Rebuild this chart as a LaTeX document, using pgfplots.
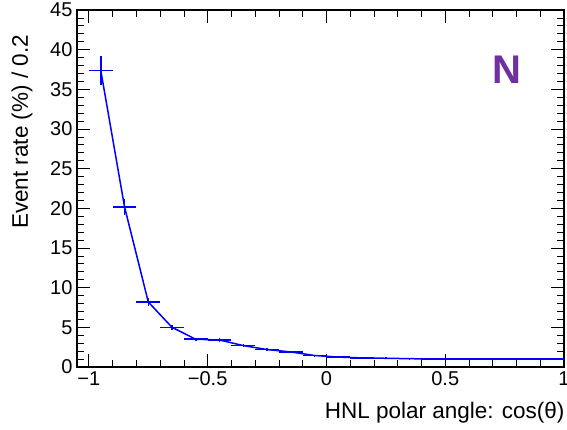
\documentclass[border=0pt]{standalone}
\usepackage{fontspec}
\setmainfont{Liberation Sans}
\usepackage{pgfplots}
\pgfplotsset{compat=1.18}
\definecolor{npurple}{HTML}{7030A0}

\begin{document}
\begin{tikzpicture}[x=1pt,y=1pt]
\path[use as bounding box] (-77,-62) rectangle (490,367);
\begin{axis}[
    at={(0,0)}, anchor=south west,
    width=487pt, height=357pt, scale only axis,
    xmin=-1.05, xmax=1, ymin=0, ymax=45,
    xtick={-1,-0.5,0,0.5,1},
    xticklabels={−1,−0.5,0,0.5,1},
    ytick={0,5,...,45},
    minor x tick num=4, minor y tick num=4,
    tick align=inside,
    major tick length=13pt, minor tick length=7pt,
    tick style={black, line width=0.8pt},
    axis line style={line width=1.5pt},
    /pgf/number format/assume math mode=true,
    tick label style={font=\fontsize{20}{23}\selectfont},
    xticklabel style={yshift=-1pt},
    yticklabel style={xshift=-1pt},
    xlabel={HNL polar angle: cos(θ)},
    ylabel={Event rate (\%) / 0.2},
    label style={font=\fontsize{22.5}{25}\selectfont},
    xlabel style={at={(axis description cs:1,-0.129)}, anchor=east, xshift=4pt},
    ylabel style={at={(axis description cs:-0.113,0.94)}, anchor=east},
    clip=false,
]
\addplot[blue, line width=1.5pt,
    error bars/.cd, x dir=both, x explicit, y dir=both, y explicit,
    error mark=none, error bar style={line width=1.5pt}]
  table[x=x, y=y, x error=ex, y error=ey] {
x     y     ex    ey
-0.95 37.4  0.05  1.8
-0.85 20.2  0.05  1.0
-0.75 8.2   0.05  0.45
-0.65 5.0   0.05  0.3
-0.55 3.5   0.05  0.2
-0.45 3.4   0.05  0.2
-0.35 2.7   0.05  0.15
-0.25 2.2   0.05  0.15
-0.15 1.9   0.05  0.1
-0.05 1.45  0.05  0.1
0.05  1.25  0.05  0.1
0.15  1.15  0.05  0.1
0.25  1.1   0.05  0.1
0.35  1.05  0.05  0.1
0.45  1.0   0.05  0.05
0.55  1.0   0.05  0.05
0.65  1.0   0.05  0.05
0.75  1.0   0.05  0.05
0.85  1.0   0.05  0.05
0.95  1.0   0.05  0.05
};
\node[text=npurple, font=\fontsize{40}{40}\selectfont\bfseries] at (axis cs:0.76,37.5) {N};
\end{axis}
\end{tikzpicture}
\end{document}
